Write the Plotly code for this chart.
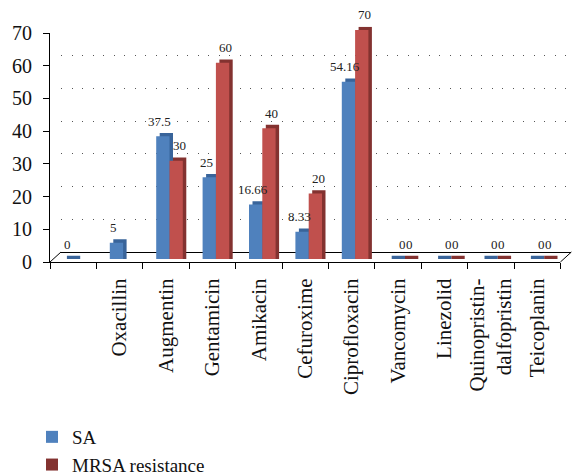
import plotly.graph_objects as go

# ---- data ----
categories = ["", "Oxacillin", "Augmentin", "Gentamicin", "Amikacin", "Cefuroxime",
              "Ciprofloxacin", "Vancomycin", "Linezolid", "Quinopristin-<br>dalfopristin",
              "Teicoplanin"]
sa_values = [0, 5, 37.5, 25, 16.66, 8.33, 54.16, 0, 0, 0, 0]
mrsa_values = [None, None, 30, 60, 40, 20, 70, 0, 0, 0, 0]
series_names = ["SA", "MRSA resistance"]
y_ticks = [0, 10, 20, 30, 40, 50, 60, 70]

# ---- styling / geometry ----
FW, FH = 573, 476
L, R, T, B = 50, 1, 20, 214
W, H = FW - L - R, FH - T - B
FRONT_W, FRONT_H = 510.4, 229
SCALE = FRONT_H / 70.0  # px per value unit
FONT = "Liberation Serif"
SA_COL, SA_DARK = "#4f81bd", "#39649a"
MR_COL, MR_DARK = "#c0504d", "#833230"
BAR_W = 0.2866
DEPTH = 1.0  # in value units (~3.3 px)
EXTRA = 1.5  # extra value units below zero for shadow axis

def fx(px):
    return px / W

def fy(px):
    return px / H

idx = list(range(len(categories)))
n = len(categories)

fig = go.Figure()

# empty traces so the front axes and back wall subplots are drawn
fig.add_trace(go.Scatter(x=[None], y=[None], xaxis="x", yaxis="y", showlegend=False,
                         hoverinfo="skip", mode="markers"))
fig.add_trace(go.Scatter(x=[None], y=[None], xaxis="x2", yaxis="y2", showlegend=False,
                         hoverinfo="skip", mode="markers"))

# shadow (3D top/side faces) on x3/y3
for vals, col, off, name, show in [(sa_values, SA_DARK, -BAR_W, series_names[0], False),
                                   (mrsa_values, MR_DARK, 0.0, series_names[1], True)]:
    fig.add_trace(go.Bar(
        x=idx, y=[None if v is None else v + DEPTH for v in vals], base=-DEPTH,
        width=BAR_W, offset=off, marker=dict(color=col, line=dict(width=0)),
        name=name, showlegend=show, legendrank=2, xaxis="x3", yaxis="y3",
        hoverinfo="skip"))

# front faces on x4/y4
for vals, col, off, name, show in [(sa_values, SA_COL, -BAR_W, series_names[0], True),
                                   (mrsa_values, MR_COL, 0.0, series_names[1], False)]:
    fig.add_trace(go.Bar(
        x=idx, y=vals, width=BAR_W, offset=off,
        marker=dict(color=col, line=dict(width=0)),
        name=name, showlegend=show, legendrank=1, xaxis="x4", yaxis="y4"))

# value labels
annotations = []
for i in idx:
    s, m = sa_values[i], mrsa_values[i]
    pair_zero = (s == 0 and m == 0)
    for v, off, sh in [(s, -BAR_W / 2, -3), (m, BAR_W / 2, 3)]:
        if v is None:
            continue
        txt = f"{v:g}"
        if pair_zero:
            xanchor = "right" if off < 0 else "left"
            xpos = i
            xs = 4
        else:
            xanchor = "center"
            xpos = i + off
            xs = sh
        annotations.append(dict(
            x=xpos, y=v, xref="x4", yref="y4", text=txt, showarrow=False,
            xanchor=xanchor, yanchor="middle", xshift=xs, yshift=15,
            borderpad=0, borderwidth=0,
            font=dict(family=FONT, size=13, color="#222222")))

# floor diagonals (decoration, pixel geometry)
def px2paper(x, y):
    return (x - L) / W, (T + H - y) / H

shapes = []
for x0 in [L, L + FRONT_W]:
    a = px2paper(x0, T + H)
    b = px2paper(x0 + 11, T + H - 10)
    shapes.append(dict(type="line", xref="paper", yref="paper",
                       x0=a[0], y0=a[1], x1=b[0], y1=b[1],
                       line=dict(color="black", width=1)))

hidden = dict(showgrid=False, zeroline=False, showticklabels=False, ticks="",
              showline=False, fixedrange=True)

fig.update_layout(
    width=FW, height=FH,
    margin=dict(l=L, r=R, t=T, b=B, pad=0, autoexpand=False),
    paper_bgcolor="white", plot_bgcolor="rgba(0,0,0,0)",
    font=dict(family=FONT, size=20, color="#111111"),
    barmode="overlay",
    showlegend=True,
    legend=dict(x=(32 - L) / W, xanchor="left", y=(T + H - 418) / H, yanchor="top",
                font=dict(family=FONT, size=19, color="#111111"),
                bgcolor="rgba(0,0,0,0)", tracegroupgap=0),
    annotations=annotations,
    shapes=shapes,
    # front axes: ticks, labels, floor front edge
    xaxis=dict(domain=[0, fx(FRONT_W)], range=[-0.5, n - 0.5], anchor="y",
               tickmode="array", tickvals=idx, ticktext=categories, ticks="",
               tickangle=-90, tickfont=dict(family=FONT, size=21, color="#111111"),
               ticklabelstandoff=7,
               minor=dict(tickmode="array", tickvals=[i - 0.5 for i in range(n + 1)],
                          ticks="outside", ticklen=6, tickcolor="black", tickwidth=1,
                          showgrid=False),
               showline=True, linecolor="black", linewidth=1,
               showgrid=False, zeroline=False, fixedrange=True),
    yaxis=dict(domain=[0, fy(FRONT_H)], range=[0, 70], anchor="x",
               tickmode="array", tickvals=y_ticks, ticks="outside", ticklen=6,
               tickcolor="black", ticklabelstandoff=7,
               tickfont=dict(family=FONT, size=20, color="#111111"),
               showline=True, linecolor="black", linewidth=1,
               showgrid=False, zeroline=False, fixedrange=True),
    # back wall: dotted gridlines and floor back edge
    xaxis2=dict(domain=[fx(11), fx(11 + FRONT_W)], range=[-0.5, n - 0.5], anchor="y2",
                showgrid=False, zeroline=False, showticklabels=False, ticks="",
                showline=True, linecolor="black", linewidth=1, fixedrange=True),
    yaxis2=dict(domain=[fy(10), fy(10 + FRONT_H)], range=[0, 70], anchor="x2",
                tickmode="array", tickvals=y_ticks[1:], showgrid=True,
                gridcolor="#555555", gridwidth=1, griddash="1px,9.5px",
                zeroline=False, showticklabels=False, ticks="", showline=False,
                fixedrange=True),
    # shadow bars (axis extended below zero so zero-height faces are visible)
    xaxis3=dict(domain=[fx(7), fx(7 + FRONT_W)], range=[-0.5, n - 0.5], anchor="y3", **hidden),
    yaxis3=dict(domain=[fy(6.3 - EXTRA * SCALE), fy(6.3 + FRONT_H)], range=[-EXTRA, 70],
                anchor="x3", **hidden),
    # front bars
    xaxis4=dict(domain=[fx(3.5), fx(3.5 + FRONT_W)], range=[-0.5, n - 0.5], anchor="y4", **hidden),
    yaxis4=dict(domain=[fy(3), fy(3 + FRONT_H)], range=[0, 70], anchor="x4", **hidden),
)

fig.write_html("out.html")
